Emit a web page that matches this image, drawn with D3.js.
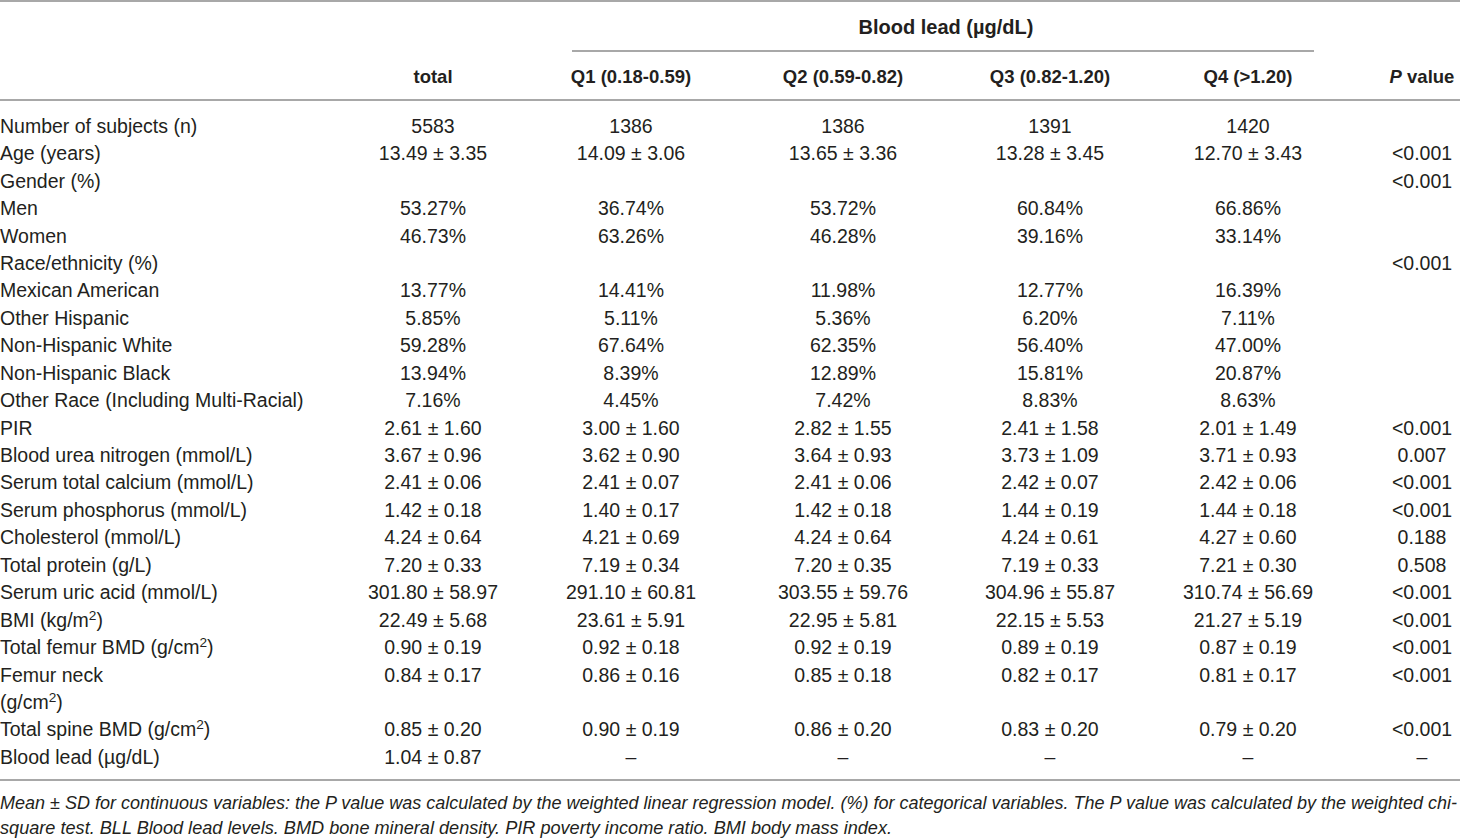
<!DOCTYPE html>
<html>
<head>
<meta charset="utf-8">
<script src="https://cdn.jsdelivr.net/npm/d3@7"></script>
<style>
html,body{margin:0;padding:0;background:#fff;}
svg{display:block;}
</style>
</head>
<body>
<svg id="chart" width="1460" height="838"></svg>
<script>
// ---- data ----
const groupHeader = "Blood lead (\u00b5g/dL)";
const columnKeys = ["total","q1","q2","q3","q4","p"];
const columnHeaders = ["total","Q1 (0.18-0.59)","Q2 (0.59-0.82)","Q3 (0.82-1.20)","Q4 (>1.20)","P value"];
const rowLabels = [
  "Number of subjects (n)","Age (years)","Gender (%)","Men","Women","Race/ethnicity (%)",
  "Mexican American","Other Hispanic","Non-Hispanic White","Non-Hispanic Black",
  "Other Race (Including Multi-Racial)","PIR","Blood urea nitrogen (mmol/L)",
  "Serum total calcium (mmol/L)","Serum phosphorus (mmol/L)","Cholesterol (mmol/L)",
  "Total protein (g/L)","Serum uric acid (mmol/L)","BMI (kg/m^2)","Total femur BMD (g/cm^2)",
  "Femur neck|(g/cm^2)","Total spine BMD (g/cm^2)","Blood lead (\u00b5g/dL)"
];
const totalVals = ["5583","13.49 \u00b1 3.35","","53.27%","46.73%","","13.77%","5.85%","59.28%","13.94%","7.16%",
  "2.61 \u00b1 1.60","3.67 \u00b1 0.96","2.41 \u00b1 0.06","1.42 \u00b1 0.18","4.24 \u00b1 0.64","7.20 \u00b1 0.33",
  "301.80 \u00b1 58.97","22.49 \u00b1 5.68","0.90 \u00b1 0.19","0.84 \u00b1 0.17","0.85 \u00b1 0.20","1.04 \u00b1 0.87"];
const q1Vals = ["1386","14.09 \u00b1 3.06","","36.74%","63.26%","","14.41%","5.11%","67.64%","8.39%","4.45%",
  "3.00 \u00b1 1.60","3.62 \u00b1 0.90","2.41 \u00b1 0.07","1.40 \u00b1 0.17","4.21 \u00b1 0.69","7.19 \u00b1 0.34",
  "291.10 \u00b1 60.81","23.61 \u00b1 5.91","0.92 \u00b1 0.18","0.86 \u00b1 0.16","0.90 \u00b1 0.19","\u2013"];
const q2Vals = ["1386","13.65 \u00b1 3.36","","53.72%","46.28%","","11.98%","5.36%","62.35%","12.89%","7.42%",
  "2.82 \u00b1 1.55","3.64 \u00b1 0.93","2.41 \u00b1 0.06","1.42 \u00b1 0.18","4.24 \u00b1 0.64","7.20 \u00b1 0.35",
  "303.55 \u00b1 59.76","22.95 \u00b1 5.81","0.92 \u00b1 0.19","0.85 \u00b1 0.18","0.86 \u00b1 0.20","\u2013"];
const q3Vals = ["1391","13.28 \u00b1 3.45","","60.84%","39.16%","","12.77%","6.20%","56.40%","15.81%","8.83%",
  "2.41 \u00b1 1.58","3.73 \u00b1 1.09","2.42 \u00b1 0.07","1.44 \u00b1 0.19","4.24 \u00b1 0.61","7.19 \u00b1 0.33",
  "304.96 \u00b1 55.87","22.15 \u00b1 5.53","0.89 \u00b1 0.19","0.82 \u00b1 0.17","0.83 \u00b1 0.20","\u2013"];
const q4Vals = ["1420","12.70 \u00b1 3.43","","66.86%","33.14%","","16.39%","7.11%","47.00%","20.87%","8.63%",
  "2.01 \u00b1 1.49","3.71 \u00b1 0.93","2.42 \u00b1 0.06","1.44 \u00b1 0.18","4.27 \u00b1 0.60","7.21 \u00b1 0.30",
  "310.74 \u00b1 56.69","21.27 \u00b1 5.19","0.87 \u00b1 0.19","0.81 \u00b1 0.17","0.79 \u00b1 0.20","\u2013"];
const pVals = ["","<0.001","<0.001","","","<0.001","","","","","",
  "<0.001","0.007","<0.001","<0.001","0.188","0.508","<0.001","<0.001","<0.001","<0.001","<0.001","\u2013"];
const footnoteLines = [
  "Mean \u00b1 SD for continuous variables: the P value was calculated by the weighted linear regression model. (%) for categorical variables. The P value was calculated by the weighted chi-",
  "square test. BLL Blood lead levels. BMD bone mineral density. PIR poverty income ratio. BMI body mass index."
];

// ---- layout ----
const svg = d3.select("#chart");
const W = 1460;
const ink = "#231f20";
const ruleColor = "#a8a8a8";
const FONT = "'Liberation Sans', Arial, Helvetica, sans-serif";
const colValues = {total: totalVals, q1: q1Vals, q2: q2Vals, q3: q3Vals, q4: q4Vals, p: pVals};

const xCol = d3.scaleOrdinal().domain(columnKeys).range([433, 631, 843, 1050, 1248, 1422]);

// build line slots (Femur neck wraps onto two lines)
const rows = [];
let slot = 0;
rowLabels.forEach((lab, i) => {
  const lines = lab.split("|");
  rows.push({i, lines, slot});
  slot += lines.length;
});
const ySlot = d3.scaleLinear().domain([0, slot - 1]).range([126, 757]);

// superscript helper
function addRich(textSel, str) {
  const parts = str.split(/(\^\d)/);
  parts.forEach(p => {
    if (!p) return;
    if (p.startsWith("^")) {
      textSel.append("tspan").attr("baseline-shift", "super").attr("font-size", "0.7em").text(p.slice(1));
    } else {
      textSel.append("tspan").text(p);
    }
  });
}

const g = svg.append("g").attr("font-family", FONT).attr("fill", ink);

// rules
function rule(x1, x2, y, w) {
  svg.append("line").attr("x1", x1).attr("x2", x2).attr("y1", y).attr("y2", y)
    .attr("stroke", ruleColor).attr("stroke-width", w || 2);
}
rule(0, W, 1);
rule(572, 1314, 51);
rule(0, W, 100);
rule(0, W, 780);

// group header
g.append("text").attr("x", 946).attr("y", 27).attr("dy", "0.35em")
  .attr("text-anchor", "middle").attr("font-weight", "bold").attr("font-size", 20)
  .text(groupHeader);

// column headers
columnKeys.forEach((k, j) => {
  const t = g.append("text").attr("x", xCol(k)).attr("y", 77).attr("dy", "0.35em")
    .attr("text-anchor", "middle").attr("font-weight", "bold").attr("font-size", 18.5);
  const h = columnHeaders[j];
  if (h.startsWith("P ")) {
    t.append("tspan").attr("font-style", "italic").text("P");
    t.append("tspan").text(h.slice(1));
  } else t.text(h);
});

// body
const FS = 19.5;
rows.forEach(r => {
  r.lines.forEach((ln, li) => {
    const t = g.append("text").attr("x", 0).attr("y", ySlot(r.slot + li)).attr("dy", "0.35em")
      .attr("font-size", FS);
    addRich(t, ln);
  });
  columnKeys.forEach(k => {
    const v = colValues[k][r.i];
    if (!v) return;
    g.append("text").attr("x", xCol(k)).attr("y", ySlot(r.slot)).attr("dy", "0.35em")
      .attr("text-anchor", "middle").attr("font-size", FS).text(v);
  });
});

// footnote
footnoteLines.forEach((ln, i) => {
  const t = g.append("text").attr("x", 0).attr("y", 803 + i * 25).attr("dy", "0.35em")
    .attr("font-size", 18).attr("font-style", "italic").text(ln);
  if (i === 0) t.attr("textLength", 1457).attr("lengthAdjust", "spacingAndGlyphs");
  else t.attr("textLength", 892).attr("lengthAdjust", "spacingAndGlyphs");
});
</script>
</body>
</html>
